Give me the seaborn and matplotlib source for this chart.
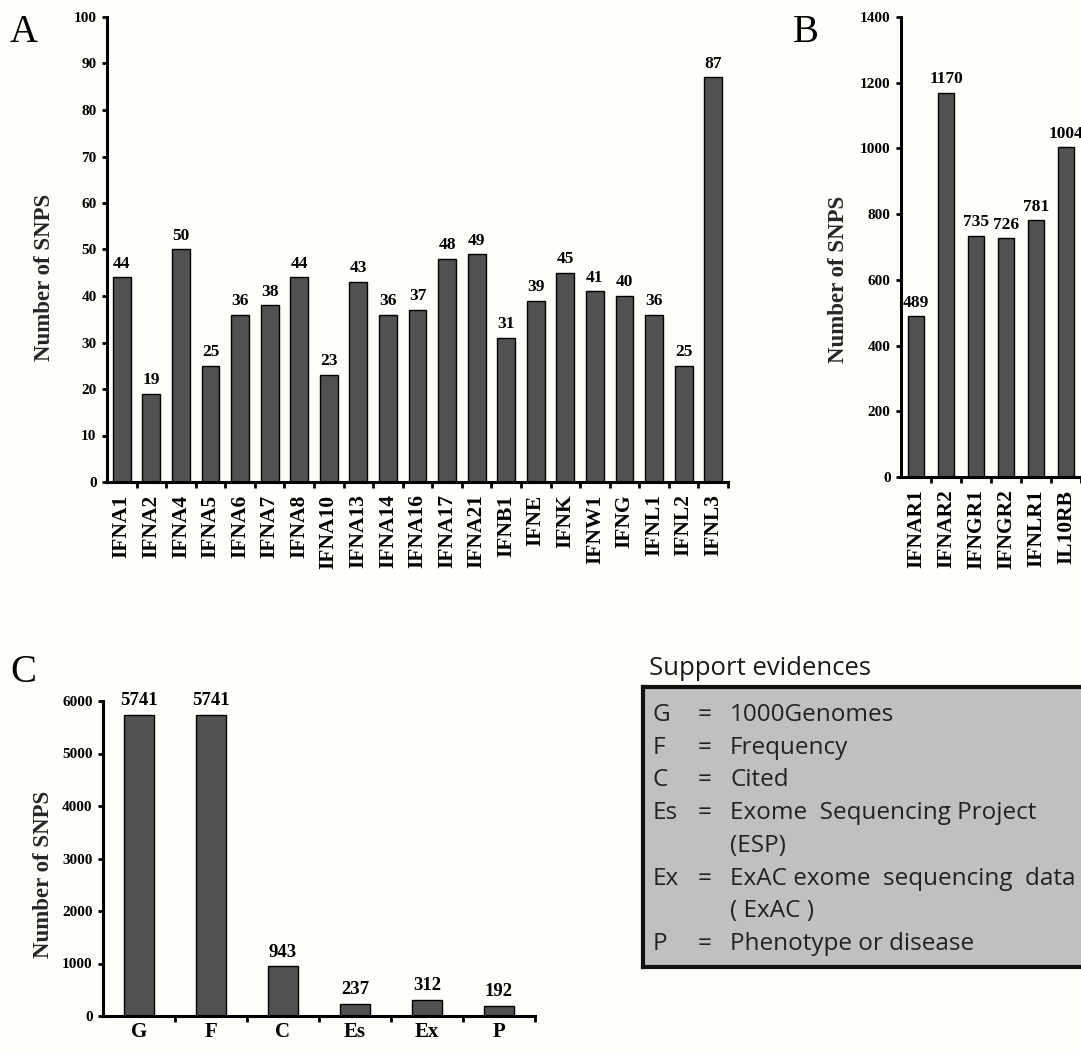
import numpy as np
import matplotlib
matplotlib.use("Agg")
import matplotlib.pyplot as plt
import seaborn as sns


# -------------------------------------------------
# DATA
# -------------------------------------------------
ifn_genes = ["IFNA1", "IFNA2", "IFNA4", "IFNA5", "IFNA6", "IFNA7", "IFNA8",
             "IFNA10", "IFNA13", "IFNA14", "IFNA16", "IFNA17", "IFNA21",
             "IFNB1", "IFNE", "IFNK", "IFNW1", "IFNG", "IFNL1", "IFNL2", "IFNL3"]
ifn_snps = [44, 19, 50, 25, 36, 38, 44, 23, 43, 36, 37, 48, 49, 31, 39, 45,
            41, 40, 36, 25, 87]

receptor_genes = ["IFNAR1", "IFNAR2", "IFNGR1", "IFNGR2", "IFNLR1", "IL10RB"]
receptor_snps = [489, 1170, 735, 726, 781, 1004]

evidence_codes = ["G", "F", "C", "Es", "Ex", "P"]
evidence_snps = [5741, 5741, 943, 237, 312, 192]
evidence_names = ["1000Genomes", "Frequency", "Cited",
                  "Exome  Sequencing Project\n(ESP)",
                  "ExAC exome  sequencing  data\n( ExAC )",
                  "Phenotype or disease"]

BAR_COLOR = "#515151"
BG = "#fefefb"
SERIF = "Liberation Serif"
SANS = "Open Sans"

W, H = 1081, 1052


def px_box(left, top, right, bottom):
    # pixel box -> figure fraction [l, b, w, h]
    return [left / W, 1 - bottom / H, (right - left) / W, (bottom - top) / H]


# -------------------------------------------------
# PANEL HELPER
# -------------------------------------------------
def draw_panel(ax, cats, vals, ymax, ystep, width, rotate, label_fs,
               value_fs, xlab_pad, ylab_xy):
    sns.barplot(x=cats, y=vals, color=BAR_COLOR, saturation=1,
                edgecolor="black", linewidth=1, width=width, ax=ax)
    n = len(cats)
    ax.set_xlim(-0.5, n - 0.5)
    ax.set_ylim(0, ymax)
    ax.set_yticks(np.arange(0, ymax + 1, ystep))
    ax.set_xticks(np.arange(n) + 0.5, minor=True)
    ax.set_facecolor(BG)
    ax.spines[["top", "right"]].set_visible(False)
    for s in ["left", "bottom"]:
        ax.spines[s].set_linewidth(2.2)
    ax.spines["left"].set_bounds(0, ymax)
    ax.tick_params(axis="y", length=3.5, width=2, pad=4, labelsize=11)
    ax.tick_params(axis="x", which="major", length=0, pad=xlab_pad,
                   labelsize=label_fs, labelrotation=90 if rotate else 0)
    ax.tick_params(axis="x", which="minor", length=4.5, width=2,
                   direction="out")
    for lab in ax.get_xticklabels() + ax.get_yticklabels():
        lab.set_fontweight("bold")
    ax.bar_label(ax.containers[0], padding=4, fontsize=value_fs,
                 fontweight="bold")
    ax.set_xlabel("")
    ax.set_ylabel("Number of SNPS", fontsize=16.5, fontweight="bold")
    ax.yaxis.set_label_coords(*ylab_xy)
    ax.yaxis.label.set_va("center")


# -------------------------------------------------
# FIGURE
# -------------------------------------------------
sns.set_style("ticks")
plt.rcParams["font.family"] = [SERIF, "DejaVu Serif"]
plt.rcParams["axes.edgecolor"] = "black"
plt.rcParams["xtick.color"] = "black"
plt.rcParams["ytick.color"] = "black"
plt.rcParams["text.color"] = "black"

fig = plt.figure(figsize=(W / 100, H / 100), dpi=100, facecolor=BG)

ax_a = fig.add_axes(px_box(107, 17, 728, 482))
draw_panel(ax_a, ifn_genes, ifn_snps, 100, 10, 0.6, True, 15.5, 12.5, 9,
           (-0.100, 0.44))

ax_b = fig.add_axes(px_box(901, 17, 1081, 477))
draw_panel(ax_b, receptor_genes, receptor_snps, 1400, 200, 0.55, True, 15.5,
           12.5, 9, (-0.35, 0.43))

ax_c = fig.add_axes(px_box(103, 701, 535, 1016))
draw_panel(ax_c, evidence_codes, evidence_snps, 6000, 1000, 0.42, False, 15,
           13.5, 4, (-0.137, 0.45))

# panel letters
for letter, x, y in [("A", 10, 42), ("B", 793, 42), ("C", 10, 682)]:
    fig.text(x / W, 1 - y / H, letter, fontsize=28, fontweight="normal",
             family=SERIF, va="baseline", ha="left")

# -------------------------------------------------
# SUPPORT EVIDENCE KEY
# -------------------------------------------------
fig.text(649 / W, 1 - 675 / H, "Support evidences", family=SANS,
         fontsize=18.5, va="baseline", ha="left", color="#1a1a1a")

ax_key = fig.add_axes(px_box(643, 687, 1090, 967))
ax_key.set_facecolor("#c0c0c0")
ax_key.set_xticks([])
ax_key.set_yticks([])
for s in ax_key.spines.values():
    s.set_linewidth(3)
    s.set_color("#111111")

line_step = 32.7
y = 721
for code, name in zip(evidence_codes, evidence_names):
    fig.text(653 / W, 1 - y / H, code, family=SANS, fontsize=17.5,
             va="baseline", ha="left", color="#222222")
    fig.text(705 / W, 1 - y / H, "=", family=SANS, fontsize=17.5,
             va="baseline", ha="center", color="#222222")
    for part in name.split("\n"):
        fig.text(730 / W, 1 - y / H, part, family=SANS, fontsize=17.5,
                 va="baseline", ha="left", color="#222222")
        y += line_step

fig.savefig("out.png", dpi=100, facecolor=BG)
